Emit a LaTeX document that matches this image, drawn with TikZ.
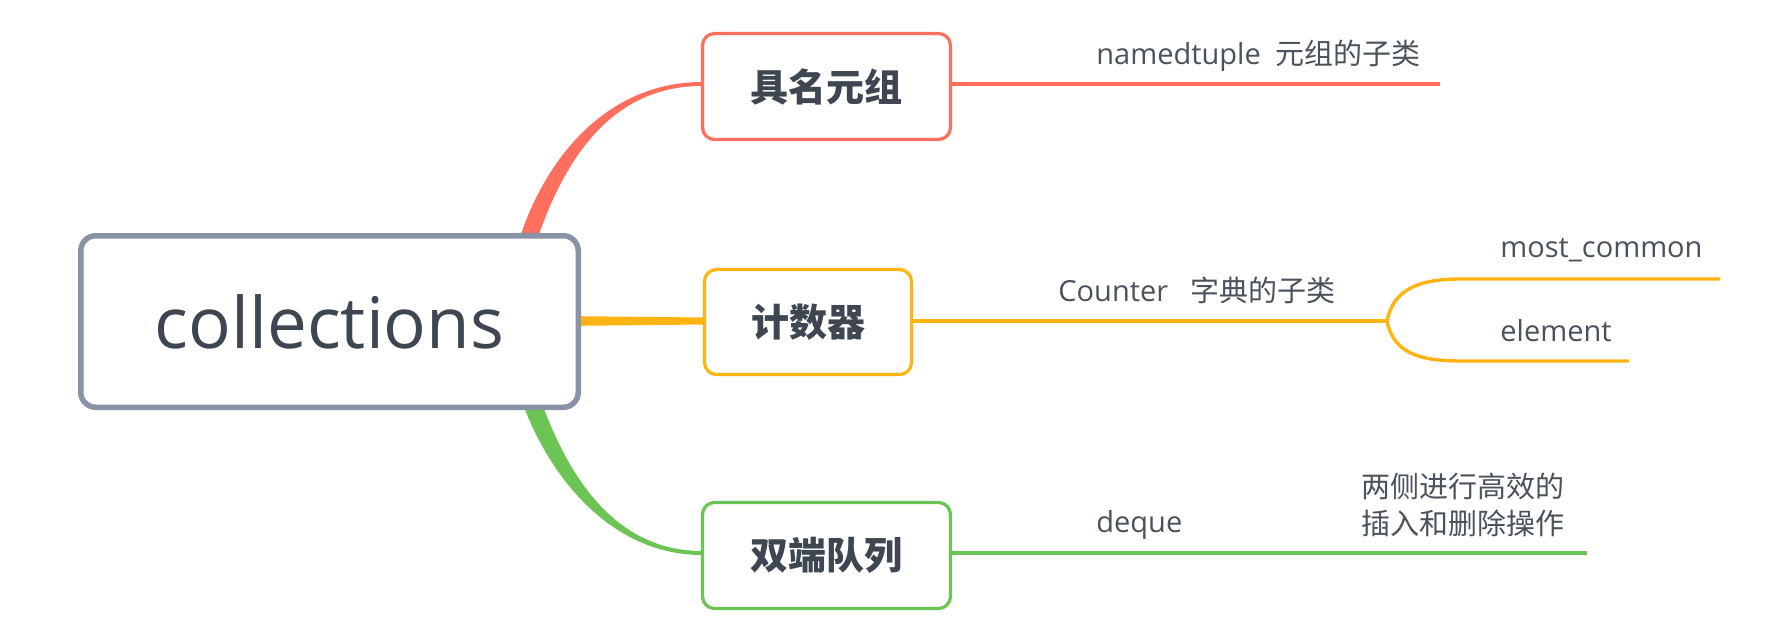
\documentclass[tikz,border=0pt]{standalone}
\usepackage{fontspec}
\setmainfont{Open Sans}
\newfontfamily\cjk{Noto Sans CJK SC}
\usetikzlibrary{calc}
\definecolor{rootgray}{RGB}{136,147,166}
\definecolor{txt}{RGB}{62,70,82}
\definecolor{lbltxt}{RGB}{74,82,93}
\definecolor{cred}{RGB}{255,111,94}
\definecolor{cyel}{RGB}{255,180,17}
\definecolor{cgrn}{RGB}{108,196,85}
\tikzset{
  topic/.style={draw, rounded corners=6pt, fill=white, line width=1.6pt, text=txt,
    font=\cjk\bfseries\fontsize{19}{23}\selectfont, minimum width=124pt, minimum height=53pt, inner sep=0pt},
  rootbox/.style={draw=rootgray, rounded corners=7.5pt, fill=white, line width=2.75pt, text=txt,
    font=\fontsize{35.5}{40}\selectfont, minimum width=248.75pt, minimum height=85.75pt, inner sep=0pt},
  lbl/.style={text=lbltxt, font=\fontsize{14.5}{18.5}\selectfont, inner sep=0pt, anchor=base west, align=left},
  branch/.style={line width=1.7pt},
}
\begin{document}
\begin{tikzpicture}[x=0.5pt,y=-0.5pt]
\useasboundingbox (0,0) rectangle (1771,631);
% coordinates of free ends
\coordinate (redend) at (1440,84);
\coordinate (ysplit) at (1387,321);
\coordinate (yup) at (1460,279);
\coordinate (yupend) at (1720,279);
\coordinate (ylow) at (1460,361);
\coordinate (ylowend) at (1629,361);
\coordinate (gend) at (1587,553);
% tapered connectors from the root
\fill[cred] (536,243) .. controls (566,153) and (615,86) .. (702,86) -- (702,82)
  .. controls (615,82) and (550,147) .. (520,237) -- cycle;
\fill[cgrn] (539.5,396.9) .. controls (568,477) and (615,551) .. (702,551) -- (702,555)
  .. controls (615,555) and (552,483) .. (522.5,403.1) -- cycle;
\fill[cyel] (560,316) -- (703,317.5) -- (703,324.5) -- (560,326) -- cycle;
% nodes
\node[rootbox] (root) at (329.5,321.5) {collections};
\node[topic, draw=cred] (red) at (826.5,86.5) {具名元组};
\node[topic, draw=cyel, minimum width=103.5pt, minimum height=52.5pt] (yel) at (808,322) {计数器};
\node[topic, draw=cgrn] (grn) at (826.5,555.5) {双端队列};
% branches
\draw[branch, cred] (red.east |- redend) -- (redend);
\draw[branch, cyel] (yel.east |- ysplit) -- (ysplit);
\draw[branch, cyel] (ysplit) .. controls (1393,290) and (1418,279) .. (yup) -- (yupend);
\draw[branch, cyel] (ysplit) .. controls (1393,352) and (1418,361) .. (ylow) -- (ylowend);
\draw[branch, cgrn] (grn.east |- gend) -- (gend);
% labels
\node[lbl] (l1) at (1096,65) {namedtuple\ \ {\cjk 元组的子类}};
\node[lbl] (l2) at (1058,301) {Counter\ \ \ {\cjk 字典的子类}};
\node[lbl] (l3) at (1500,257) {most\_common};
\node[lbl] (l4) at (1500,341) {element};
\node[lbl] (l5) at (1096,532) {deque};
\node[lbl, anchor=west, font=\cjk\fontsize{14.5}{18.5}\selectfont] (l6) at (1361,505) {两侧进行高效的\\插入和删除操作};
\end{tikzpicture}
\end{document}
